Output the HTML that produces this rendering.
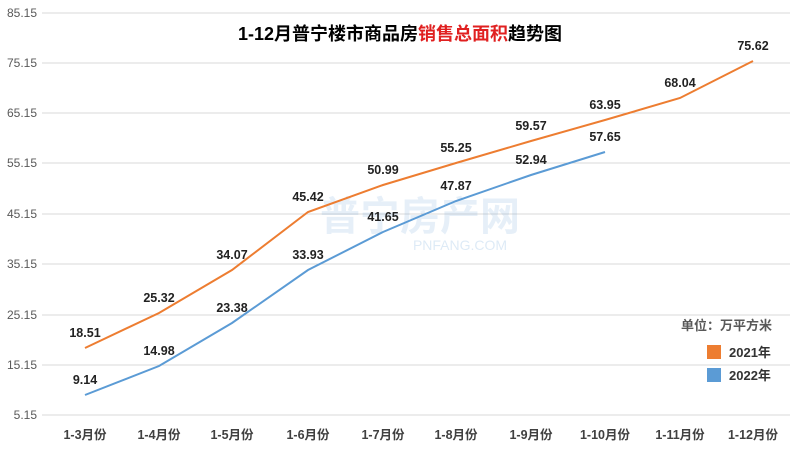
<!DOCTYPE html>
<html><head><meta charset="utf-8"><style>body{margin:0;background:#fff}</style></head><body>
<svg width="800" height="450" xmlns="http://www.w3.org/2000/svg" font-family="Liberation Sans, Noto Sans CJK SC, sans-serif">
<rect width="800" height="450" fill="#fff"/>
<g stroke="#d9d9d9" stroke-width="1">
<line x1="42" x2="790" y1="13" y2="13"/><line x1="42" x2="790" y1="63" y2="63"/><line x1="42" x2="790" y1="113" y2="113"/><line x1="42" x2="790" y1="163" y2="163"/><line x1="42" x2="790" y1="214" y2="214"/><line x1="42" x2="790" y1="264" y2="264"/><line x1="42" x2="790" y1="315" y2="315"/><line x1="42" x2="790" y1="365" y2="365"/><line x1="42" x2="790" y1="415" y2="415"/>
</g>
<g font-size="12" fill="#595959" text-anchor="end">
<text x="37" y="17">85.15</text><text x="37" y="67">75.15</text><text x="37" y="117">65.15</text><text x="37" y="167">55.15</text><text x="37" y="218">45.15</text><text x="37" y="268">35.15</text><text x="37" y="319">25.15</text><text x="37" y="369">15.15</text><text x="37" y="419">5.15</text>
</g>
<text x="400" y="40" text-anchor="middle" font-size="18" font-weight="bold" fill="#000">1-12月普宁楼市商品房<tspan fill="#e02020">销售总面积</tspan>趋势图</text>
<text x="420" y="230" text-anchor="middle" font-size="40" font-weight="bold" fill="#5b9bd5" opacity="0.15">普宁房产网</text>
<text x="460" y="250" text-anchor="middle" font-size="14" fill="#5b9bd5" opacity="0.2">PNFANG.COM</text>
<polyline fill="none" stroke="#ed7d31" stroke-width="2" points="85,348 159,313 232,270 308,212 383,185 456,163 531,141 605,120 680,98 753,61"/>
<polyline fill="none" stroke="#5b9bd5" stroke-width="2" points="85,395 159,366 232,323 308,270 383,232 456,201 531,175 605,152"/>
<g font-size="12.5" font-weight="bold" fill="#222" text-anchor="middle">
<text x="85" y="337">18.51</text><text x="159" y="302">25.32</text><text x="232" y="259">34.07</text><text x="308" y="201">45.42</text><text x="383" y="174">50.99</text><text x="456" y="152">55.25</text><text x="531" y="130">59.57</text><text x="605" y="109">63.95</text><text x="680" y="87">68.04</text><text x="753" y="50">75.62</text>
<text x="85" y="384">9.14</text><text x="159" y="355">14.98</text><text x="232" y="312">23.38</text><text x="308" y="259">33.93</text><text x="383" y="221">41.65</text><text x="456" y="190">47.87</text><text x="531" y="164">52.94</text><text x="605" y="141">57.65</text>
</g>
<g font-size="12.5" font-weight="bold" fill="#404040" text-anchor="middle">
<text x="85" y="439">1-3月份</text><text x="159" y="439">1-4月份</text><text x="232" y="439">1-5月份</text><text x="308" y="439">1-6月份</text><text x="383" y="439">1-7月份</text><text x="456" y="439">1-8月份</text><text x="531" y="439">1-9月份</text><text x="605" y="439">1-10月份</text><text x="680" y="439">1-11月份</text><text x="753" y="439">1-12月份</text>
</g>
<text x="772" y="330" text-anchor="end" font-size="13" font-weight="bold" fill="#595959">单位：万平方米</text>
<rect x="707" y="345" width="14" height="14" fill="#ed7d31"/>
<rect x="707" y="368" width="14" height="14" fill="#5b9bd5"/>
<g font-size="13" font-weight="bold" fill="#333"><text x="729" y="357">2021年</text><text x="729" y="380">2022年</text></g>
</svg>
</body></html>
